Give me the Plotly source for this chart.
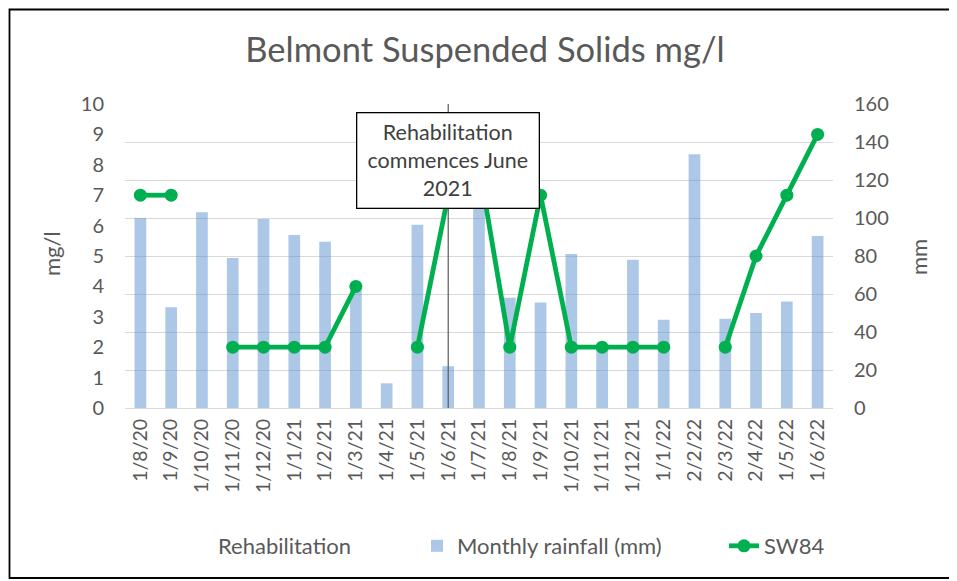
import plotly.graph_objects as go

categories = ["1/8/20", "1/9/20", "1/10/20", "1/11/20", "1/12/20", "1/1/21", "1/2/21",
              "1/3/21", "1/4/21", "1/5/21", "1/6/21", "1/7/21", "1/8/21", "1/9/21",
              "1/10/21", "1/11/21", "1/12/21", "1/1/22", "2/2/22", "2/3/22", "2/4/22",
              "1/5/22", "1/6/22"]
rainfall_mm = [100, 53, 103, 79, 99.5, 91, 87.5, 62, 13, 96.5, 22, 112, 58, 55.5,
               81, 33, 78, 46.5, 133.5, 47, 50, 56, 90.5]
sw84_mgl = [7, 7, None, 2, 2, 2, 2, 4, None, 2, 7, 8, 2, 7, 2, 2, 2, 2, None, 2, 5, 7, 9]
rehab_category = ["1/6/21"]
rehab_value = [10]

FONT = "Lato"
GREY = "#595959"

# page offset (browser body margin) in px
OFF = 8
# target plot area in screen px
PX0, PX1, PY0, PY1 = 125, 833, 104, 408
PW, PH = PX1 - PX0, PY1 - PY0
W, H = 957, 581


def px(x):
    return (x - PX0) / PW


def py(y):
    return (PY1 - y) / PH


fig = go.Figure()

fig.add_trace(go.Scatter(
    x=rehab_category, y=rehab_value, yaxis="y2", name="Rehabilitation",
    mode="markers", marker=dict(color="rgba(0,0,0,0)", size=1),
    error_y=dict(type="data", symmetric=False, array=[0], arrayminus=rehab_value,
                 color="#595959", thickness=1.2, width=0),
    hoverinfo="skip", legend="legend"))

fig.add_trace(go.Bar(
    x=categories, y=rainfall_mm, yaxis="y", name="Monthly rainfall (mm)",
    marker=dict(color="rgba(91,146,206,0.5)", line=dict(width=0)),
    legend="legend2"))

fig.add_trace(go.Scatter(
    x=categories, y=sw84_mgl, yaxis="y2", name="SW84", mode="lines+markers",
    connectgaps=False,
    line=dict(color="#00B050", width=4.8),
    marker=dict(color="#00B050", size=13),
    legend="legend3"))

leg_y = py(546)
leg_common = dict(orientation="h", xanchor="left", y=leg_y, yanchor="middle",
                  font=dict(family=FONT, size=22, color=GREY),
                  bgcolor="rgba(0,0,0,0)")

fig.update_layout(
    width=W, height=H,
    margin=dict(l=PX0 - OFF, r=W - (PX1 - OFF), t=PY0 - OFF, b=H - (PY1 - OFF)),
    paper_bgcolor="white", plot_bgcolor="white",
    font=dict(family=FONT, color=GREY, size=20),
    bargap=0.62,
    showlegend=True,
    title=dict(text="Belmont Suspended Solids mg/l", x=(485 - OFF) / W, xanchor="center",
               y=1 - (50 - OFF) / H, yanchor="middle",
               font=dict(family=FONT, size=34.5, color=GREY)),
    xaxis=dict(type="category", categoryorder="array", categoryarray=categories,
               range=[-0.5, len(categories) - 0.5],
               tickangle=-90, showgrid=False, showline=False,
               ticks="", ticklabelstandoff=6,
               tickfont=dict(size=19.5, color=GREY)),
    yaxis=dict(side="right", range=[0, 160], dtick=20, showgrid=True,
               gridcolor="#D9D9D9", gridwidth=1.3, zeroline=True,
               zerolinecolor="#D9D9D9", zerolinewidth=1.3, showline=False,
               ticks="", ticklabelstandoff=20, tickfont=dict(size=20, color=GREY)),
    yaxis2=dict(side="left", overlaying="y", range=[0, 10], dtick=1, showgrid=False,
                zeroline=False, showline=False, ticks="", ticklabelstandoff=20,
                tickfont=dict(size=20, color=GREY)),
    legend=dict(x=px(218 - 40), **leg_common),
    legend2=dict(x=px(457 - 40), **leg_common),
    legend3=dict(x=px(764 - 40), **leg_common),
)

fig.add_annotation(
    x="1/6/21", xref="x", y=py(160), yref="paper", xanchor="center", yanchor="middle",
    text="Rehabilitation<br>commences June<br>2021", showarrow=False,
    font=dict(family=FONT, size=21.5, color="#404040"),
    align="center", bgcolor="white", bordercolor="black", borderwidth=1.3,
    borderpad=3, width=175, height=88, valign="middle")

fig.add_annotation(x=px(51), xref="paper", y=py(254), yref="paper",
                   xanchor="center", yanchor="middle",
                   text="mg/l", textangle=-90, showarrow=False,
                   font=dict(family=FONT, size=22, color=GREY))
fig.add_annotation(x=px(918), xref="paper", y=py(257), yref="paper",
                   xanchor="center", yanchor="middle",
                   text="mm", textangle=-90, showarrow=False,
                   font=dict(family=FONT, size=22, color=GREY))

fig.add_shape(type="rect", xref="paper", yref="paper",
              x0=px(OFF + 1.5), x1=px(951), y0=py(578), y1=py(OFF + 1.5),
              line=dict(color="black", width=1.8), fillcolor="rgba(0,0,0,0)",
              layer="below")

fig.write_html("out.html")
